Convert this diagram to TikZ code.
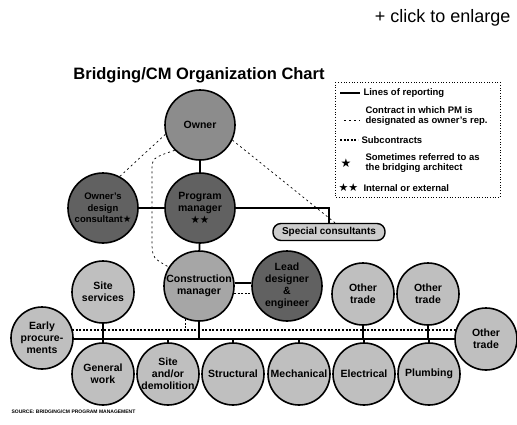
\documentclass[tikz,border=0pt]{standalone}
\usepackage{fontspec}
\setmainfont{Liberation Sans}
\newfontfamily\symfont{DejaVu Sans}
\usepackage{tikz}
\usetikzlibrary{positioning}

\begin{document}
\begin{tikzpicture}[x=1pt, y=-1pt, main/.style={draw, circle, minimum size=70pt, inner sep=0pt, line width=1.6pt, fill=black!35, align=center, font=\fontsize{10.5}{12}\selectfont\bfseries}, dark/.style={main, fill=black!62}, trade/.style={main, minimum size=62pt, fill=black!25}, pill/.style={rectangle, rounded corners=8, draw, line width=1.4pt, fill=black!20, minimum width=112pt, minimum height=17pt, font=\fontsize{10}{11}\selectfont\bfseries}, r/.style={line width=1.8pt}, c/.style={line width=0.7pt, dash pattern=on 2pt off 3pt}, s/.style={line width=1.4pt, dash pattern=on 2pt off 1.6pt}, leg/.style={anchor=west, align=left, font=\fontsize{9.5}{10.5}\selectfont\bfseries}]
            \useasboundingbox (0,0) rectangle (517,424);
            % nodes
            \node[anchor=east, font=\fontsize{18}{20}\selectfont] (click) at (514,18) {+ click to enlarge};
            \node[font=\fontsize{16.5}{18}\selectfont\bfseries] (title) at (199,75) {Bridging/CM Organization Chart};

            \node[main, fill=black!45] (owner) at (200,125) {Owner};
            \node[dark, font=\fontsize{9.5}{11.5}\selectfont\bfseries] (odc) at (103,208) {Owner's\\design\\consultant{\symfont ★}};
            \node[dark] (pm) at (200,208) {Program\\manager\\{\symfont ★★}};
            \node[pill] (spc) at (329,232) {Special consultants};
            \node[main] (cm) at (199,286) {Construction\\manager};
            \node[dark] (lde) at (287,286) {Lead\\designer\\\&\\engineer};

            \node[trade] (early) at (42,338) {Early\\procure-\\ments};
            \node[trade] (site) at (103,292) {Site\\services};
            \node[trade] (ot1) at (363,294) {Other\\trade};
            \node[trade] (ot2) at (428,294) {Other\\trade};
            \node[trade] (ot3) at (486,339) {Other\\trade};
            \node[trade] (gw) at (103,374) {General\\work};
            \node[trade] (sd) at (168,374) {Site\\and/or\\demolition};
            \node[trade] (st) at (233,374) {Structural};
            \node[trade] (me) at (299,374) {Mechanical};
            \node[trade] (el) at (364,374) {Electrical};
            \node[trade] (pl) at (429,374) {Plumbing};

            \coordinate (busL) at (73,339);
            \coordinate (busR) at (455,339);
            \coordinate (subL) at (72,330);
            \coordinate (subR) at (456,330);
            \coordinate (bend1) at (152,172);
            \coordinate (bend2) at (152,246);

            % legend
            \draw[dotted, line width=0.7pt] (335,82) rectangle (500,197);
            \node[leg] (lr) at (360,93) {Lines of reporting};
            \node[leg] (lc) at (362,116) {Contract in which PM is\\designated as owner's rep.};
            \node[leg] (ls) at (358,140) {Subcontracts};
            \node[leg] (lb) at (362,163) {Sometimes referred to as\\the bridging architect};
            \node[leg, font=\fontsize{12}{12}\selectfont\symfont] (lstar) at (337,163) {★};
            \node[leg] (li) at (360,188) {Internal or external};
            \node[leg, font=\fontsize{11}{11}\selectfont\symfont] (lstars) at (335,188) {★★};

            \node[anchor=west, font=\fontsize{5}{6}\selectfont\bfseries] (src) at (8,412) {SOURCE: BRIDGING/CM PROGRAM MANAGEMENT};

            % edges
            \draw[r] (owner) -- (pm);
            \draw[r] (odc) -- (pm);
            \draw[r] (pm) -- (cm);
            \draw[r] (pm.east) -| (spc.north);
            \draw[c] (owner.195) -- (odc.62);
            \draw[c] (owner.-25) -- ([xshift=6pt]spc.north);
            \draw[c] (owner.225) .. controls (152,158) .. (bend1) -- (bend2) .. controls (153,258) .. (cm.148);

            \draw[r] (cm.5) -- (lde.175);
            \draw[s] (cm.-12) -- (lde.192);

            \draw[r] (busL) -- (busR);
            \draw[s] (subL) -- (subR);
            \draw[r] (cm) -- (cm |- busL);
            \draw[s] (cm.-112) -- (cm.-112 |- subL);
            \draw[r] (site) -- (site |- busL);
            \draw[r] (ot1) -- (ot1 |- busL);
            \draw[r] (ot2) -- (ot2 |- busL);
            \foreach \t in {gw, sd, st, me, el, pl}
                \draw[r] (\t) -- (\t |- busL);

            \draw[r] ([xshift=-20pt]lr.west) -- (lr.west);
            \draw[c] ([xshift=-18pt, yshift=-4pt]lc.west) -- ([xshift=-2pt, yshift=-4pt]lc.west);
            \draw[s] ([xshift=-18pt]ls.west) -- (ls.west);
        \end{tikzpicture}
\end{document}
